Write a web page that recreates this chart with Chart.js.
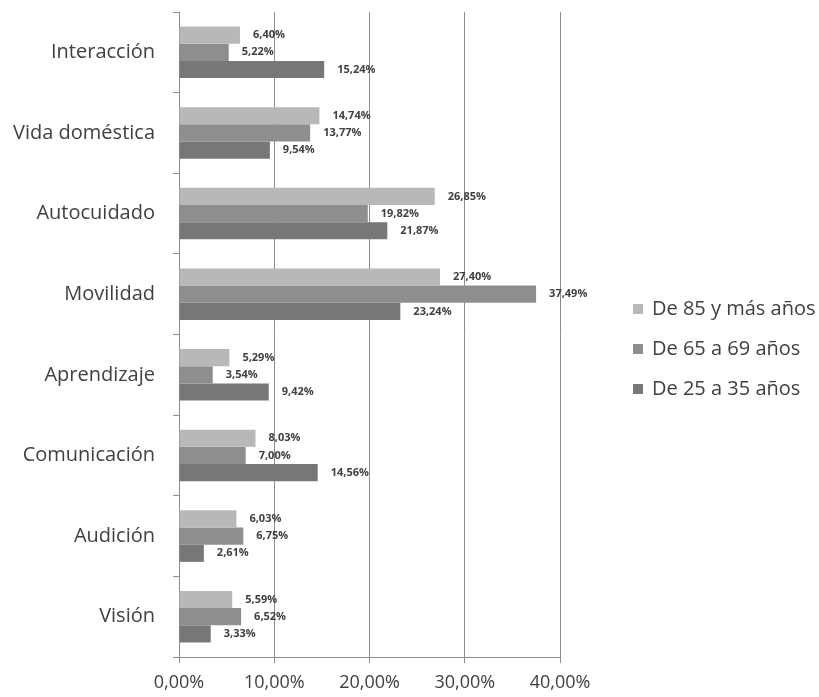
<!DOCTYPE html>
<html>
<head>
<meta charset="utf-8">
<script src="https://cdn.jsdelivr.net/npm/chart.js@4/dist/chart.umd.min.js"></script>
<style>
html,body{margin:0;padding:0;background:#fff;}
#wrap{width:819px;height:697px;position:relative;}
</style>
</head>
<body>
<div id="wrap"><canvas id="c" width="819" height="697"></canvas></div>
<script>
const categories = ["Interacción","Vida doméstica","Autocuidado","Movilidad","Aprendizaje","Comunicación","Audición","Visión"];
const seriesNames = ["De 85 y más años","De 65 a 69 años","De 25 a 35 años"];
const values85 = [6.40, 14.74, 26.85, 27.40, 5.29, 8.03, 6.03, 5.59];
const values65 = [5.22, 13.77, 19.82, 37.49, 3.54, 7.00, 6.75, 6.52];
const values25 = [15.24, 9.54, 21.87, 23.24, 9.42, 14.56, 2.61, 3.33];
const xTicks = [0, 10, 20, 30, 40];
const colors = ["#b8b8b8", "#8e8e8e", "#777777"];

const FONT = "'Open Sans', 'DejaVu Sans', sans-serif";
const fmt = v => v.toFixed(2).replace('.', ',') + '%';

const labelPlugin = {
  id: 'barLabels',
  afterDatasetsDraw(chart) {
    const ctx = chart.ctx;
    ctx.save();
    ctx.font = "bold 11px " + FONT;
    ctx.fillStyle = "#404040";
    ctx.textAlign = "left";
    ctx.textBaseline = "middle";
    chart.data.datasets.forEach((ds, i) => {
      const meta = chart.getDatasetMeta(i);
      meta.data.forEach((bar, j) => {
        ctx.fillText(fmt(ds.data[j]), bar.x + 13, bar.y);
      });
    });
    ctx.restore();
  }
};

const legendPlugin = {
  id: 'customLegend',
  afterDraw(chart) {
    const ctx = chart.ctx;
    ctx.save();
    ctx.font = "20px " + FONT;
    ctx.textBaseline = "middle";
    ctx.textAlign = "left";
    const ys = [309, 349, 389];
    chart.data.datasets.forEach((ds, i) => {
      ctx.fillStyle = ds.backgroundColor;
      ctx.fillRect(633, ys[i] - 5, 10, 10);
      ctx.fillStyle = "#404040";
      ctx.fillText(ds.label, 652, ys[i]);
    });
    ctx.restore();
  }
};

new Chart(document.getElementById('c'), {
  type: 'bar',
  data: {
    labels: categories,
    datasets: [
      { label: seriesNames[0], data: values85, backgroundColor: colors[0] },
      { label: seriesNames[1], data: values65, backgroundColor: colors[1] },
      { label: seriesNames[2], data: values25, backgroundColor: colors[2] }
    ]
  },
  options: {
    indexAxis: 'y',
    responsive: false,
    animation: false,
    devicePixelRatio: 1,
    layout: { padding: { left: 0, right: 259, top: 12, bottom: 0 } },
    datasets: { bar: { categoryPercentage: 0.64, barPercentage: 1.0 } },
    plugins: { legend: { display: false }, tooltip: { enabled: false } },
    scales: {
      x: {
        min: 0, max: 40,
        afterBuildTicks: s => { s.ticks = xTicks.map(v => ({ value: v })); },
        afterFit: s => { s.height = 40; s.paddingLeft = 0; s.paddingRight = 0; },
        ticks: {
          callback: v => v.toFixed(2).replace('.', ',') + '%',
          color: "#404040",
          font: { family: FONT, size: 18 },
          padding: 9,
          maxRotation: 0
        },
        grid: { color: "#8c8c8c", lineWidth: 1, drawTicks: true, tickLength: 6, tickColor: "#8c8c8c" },
        border: { color: "#8c8c8c", width: 1 }
      },
      y: {
        afterFit: s => { s.width = 179; s.paddingTop = 0; s.paddingBottom = 0; },
        ticks: {
          color: "#404040",
          font: { family: FONT, size: 20 },
          padding: 18,
          autoSkip: false
        },
        grid: { offset: true, drawOnChartArea: false, drawTicks: true, tickLength: 6, color: "#8c8c8c" },
        border: { color: "#8c8c8c", width: 1 }
      }
    }
  },
  plugins: [labelPlugin, legendPlugin]
});
</script>
</body>
</html>
